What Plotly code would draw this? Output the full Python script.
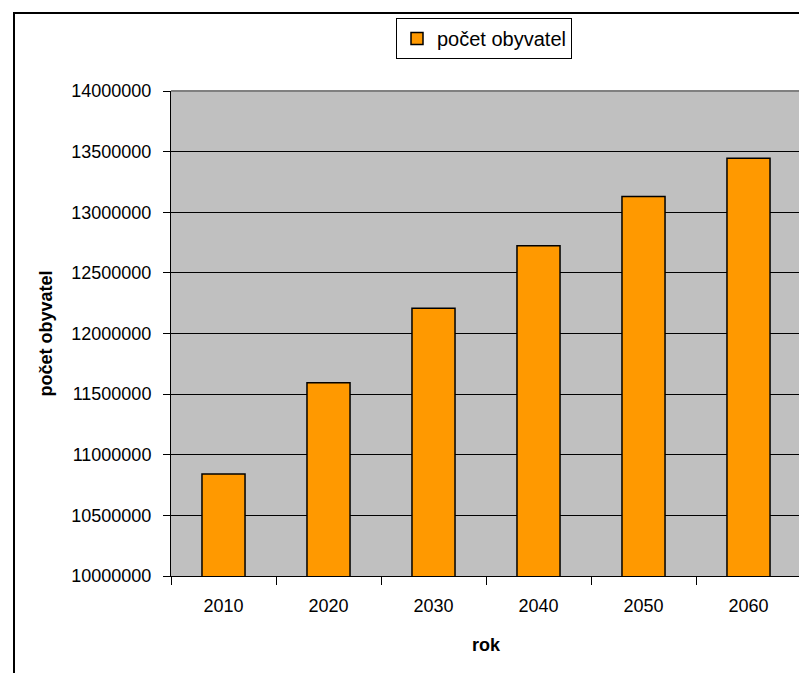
import plotly.graph_objects as go

years = ["2010", "2020", "2030", "2040", "2050", "2060"]
population = [10842000, 11594000, 12208000, 12724000, 13130000, 13446000]
series_name = "počet obyvatel"
y_title = "počet obyvatel"
x_title = "rok"

# page body has an 8px default margin; size the figure so it fills the window
OFF = 8
W, H = 807 - OFF, 673 - OFF
L, R, T, B = 171 - OFF, 807 - 801, 91 - OFF, 673 - 576
pw, ph = W - L - R, H - T - B

def px(x):
    return (x - OFF - L) / pw

def py(y):
    return (H - B - (y - OFF)) / ph

font = "Liberation Sans, Arial, sans-serif"

fig = go.Figure()
fig.add_trace(go.Bar(
    x=years, y=population, name=series_name,
    marker=dict(color="#FF9900", line=dict(color="black", width=1.5)),
    showlegend=True,
))

fig.update_layout(
    width=W, height=H,
    margin=dict(l=L, r=R, t=T, b=B),
    paper_bgcolor="white",
    plot_bgcolor="#C0C0C0",
    bargap=0.59,
    font=dict(family=font, size=18, color="black"),
    showlegend=True,
    legend=dict(
        x=px(484), y=py(18), xanchor="center", yanchor="top",
        bordercolor="black", borderwidth=1, bgcolor="white",
        font=dict(size=20), itemwidth=30,
    ),
    xaxis=dict(
        type="category", tickson="boundaries", ticks="outside", ticklen=8,
        tickcolor="black", showline=True, linecolor="black", linewidth=1,
        showgrid=False, ticklabelstandoff=13,
        title=dict(text="<b>" + x_title + "</b>", font=dict(size=18), standoff=23),
        tickfont=dict(size=18),
    ),
    yaxis=dict(
        range=[10000000, 14000000], dtick=500000, tickformat="d",
        ticks="outside", ticklen=7, tickcolor="black",
        showline=True, linecolor="black", linewidth=1,
        showgrid=True, gridcolor="black", gridwidth=1, ticklabelstandoff=8,
        title=dict(text="<b>" + y_title + "</b>", font=dict(size=18), standoff=14),
        tickfont=dict(size=18),
    ),
    shapes=[
        dict(type="line", xref="paper", yref="paper", x0=0, x1=1, y0=1, y1=1,
             line=dict(color="#808080", width=2)),
        dict(type="line", xref="paper", yref="paper", x0=1, x1=1, y0=0, y1=1,
             line=dict(color="#808080", width=2)),
        dict(type="rect", xref="paper", yref="paper",
             x0=px(14), x1=px(815), y0=py(690), y1=py(13),
             line=dict(color="black", width=2), fillcolor="rgba(0,0,0,0)"),
    ],
)

fig.write_html("out.html")
